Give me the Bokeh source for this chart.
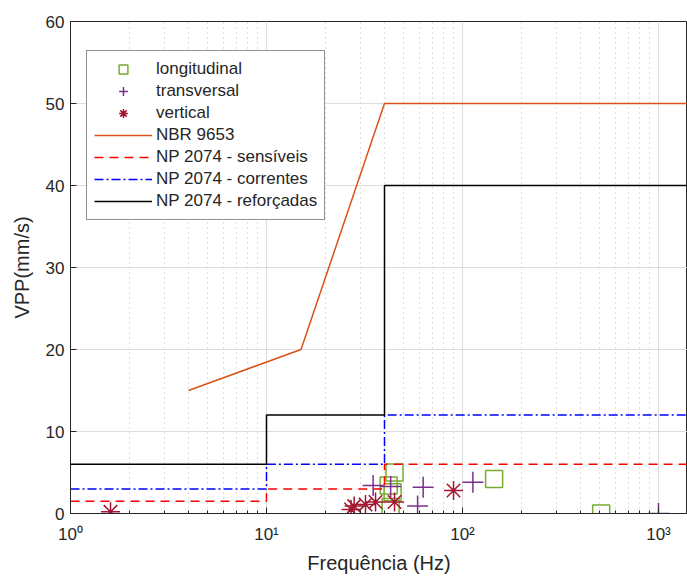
from bokeh.plotting import figure
from bokeh.models import FixedTicker, Legend, LegendItem
from bokeh.embed import file_html
from bokeh.resources import INLINE

# ---- data ----
long_f = [45, 42, 44, 43, 145, 510]
long_v = [5.0, 3.4, 2.6, 0.8, 4.2, 0.0]

trans_f = [35, 43, 63, 59, 113, 1000]
trans_v = [3.4, 3.3, 3.2, 0.9, 3.8, 0.0]

vert_f = [1.6, 27, 28, 32, 36, 45, 90]
vert_v = [0.2, 0.5, 0.9, 1.1, 1.4, 1.4, 2.8]

nbr_f = [4, 15, 40, 1406]
nbr_v = [15, 20, 50, 50]

np_f = [1, 10, 40, 1406]
np_sens = [1.5, 3, 6, 6]
np_corr = [3, 6, 12, 12]
np_ref = [6, 12, 40, 40]

x_ticks = [1, 10, 100, 1000]
x_tick_labels = ["10\u2070", "10\u00b9", "10\u00b2", "10\u00b3"]
y_ticks = [0, 10, 20, 30, 40, 50, 60]

FONT = "Liberation Sans"
TXT = "#262626"

p = figure(width=687, height=578, x_axis_type="log", x_range=(1, 1406), y_range=(0, 60),
           output_backend="svg", toolbar_location=None,
           min_border_left=70, min_border_top=21, min_border_bottom=65, min_border_right=0)
p.background_fill_color = "white"
p.border_fill_color = "white"
p.outline_line_color = TXT
p.outline_line_width = 1

minor = [m * d for d in [1, 10, 100, 1000] for m in range(2, 10)]
p.xaxis.ticker = FixedTicker(ticks=x_ticks, minor_ticks=minor)
p.xaxis.major_label_overrides = {t: l for t, l in zip(x_ticks, x_tick_labels)}
p.yaxis.ticker = FixedTicker(ticks=y_ticks)

for ax in (p.xaxis[0], p.yaxis[0]):
    ax.axis_line_color = TXT
    ax.major_tick_line_color = TXT
    ax.minor_tick_line_color = TXT
    ax.major_tick_in = 6
    ax.major_tick_out = 0
    ax.minor_tick_in = 3
    ax.minor_tick_out = 0
    ax.major_label_text_font = FONT
    ax.major_label_text_font_size = "17px"
    ax.major_label_text_color = TXT
    ax.axis_label_text_font = FONT
    ax.axis_label_text_font_size = "20px"
    ax.axis_label_text_font_style = "normal"
    ax.axis_label_text_color = TXT

p.xaxis.axis_label = "Frequência (Hz)"
p.yaxis.axis_label = "VPP(mm/s)"
p.xaxis.major_label_standoff = 11
p.xaxis.axis_label_standoff = 5
p.yaxis.major_label_standoff = 6
p.yaxis.axis_label_standoff = 10

p.xgrid.grid_line_color = "#dddddd"
p.xgrid.minor_grid_line_color = "#bbbbbb"
p.xgrid.minor_grid_line_dash = "1 4"
p.ygrid.grid_line_color = "#dddddd"

r_long = p.scatter(long_f, long_v, marker="square", size=17, fill_color=None,
                   line_color="#77AC30", line_width=1.5)
r_trans = p.scatter(trans_f, trans_v, marker="cross", size=21,
                    line_color="#7E2F8E", line_width=1.5)
r_vert = p.scatter(vert_f, vert_v, marker="asterisk", size=19,
                   line_color="#A2142F", line_width=1.5)

r_nbr = p.line(nbr_f, nbr_v, line_color="#D95319", line_width=1.5)
r_sens = p.step(np_f, np_sens, mode="after", line_color="#FF0000", line_width=1.5,
                line_dash="9 6")
r_corr = p.step(np_f, np_corr, mode="after", line_color="#0000FF", line_width=1.5,
                line_dash="9 3 2 3")
r_ref = p.step(np_f, np_ref, mode="after", line_color="#000000", line_width=1.5)

legend = Legend(items=[
    LegendItem(label="longitudinal", renderers=[r_long]),
    LegendItem(label="transversal", renderers=[r_trans]),
    LegendItem(label="vertical", renderers=[r_vert]),
    LegendItem(label="NBR 9653", renderers=[r_nbr]),
    LegendItem(label="NP 2074 - sensíveis", renderers=[r_sens]),
    LegendItem(label="NP 2074 - correntes", renderers=[r_corr]),
    LegendItem(label="NP 2074 - reforçadas", renderers=[r_ref]),
], location=(16, 293))
legend.label_text_font = FONT
legend.label_text_font_size = "17px"
legend.label_text_color = TXT
legend.label_height = 22
legend.glyph_height = 22
legend.glyph_width = 58
legend.label_standoff = 4
legend.spacing = 0
legend.padding = 7
legend.margin = 0
legend.border_line_color = TXT
legend.border_line_width = 1
legend.background_fill_color = "white"
legend.background_fill_alpha = 1
p.add_layout(legend, "center")

open("out.html", "w").write(file_html(p, INLINE))
